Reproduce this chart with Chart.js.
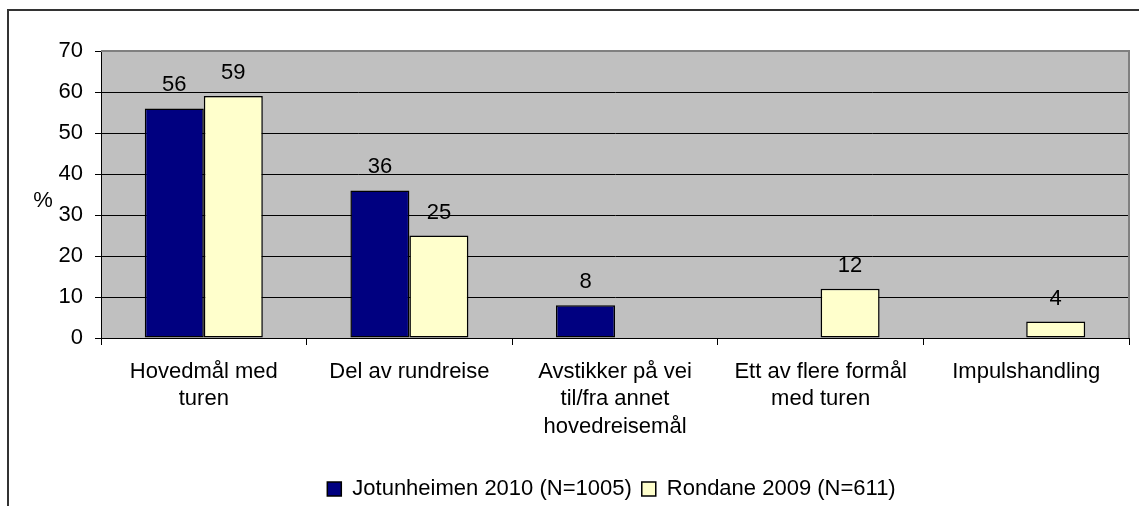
<!DOCTYPE html>
<html><head><meta charset="utf-8">
<script src="https://cdn.jsdelivr.net/npm/chart.js@4/dist/chart.umd.min.js"></script>
<style>
html,body{margin:0;padding:0;background:#fff;overflow:hidden;width:1139px;height:506px}
#wrap{position:absolute;left:0;top:0;width:1139px;height:510px}
</style>
</head><body><div id="wrap"><canvas id="c" width="1139" height="510"></canvas></div>
<script>
const categories = [['Hovedmål med','turen'],'Del av rundreise',['Avstikker på vei','til/fra annet','hovedreisemål'],['Ett av flere formål','med turen'],'Impulshandling'];
const seriesNames = ['Jotunheimen 2010 (N=1005)','Rondane 2009 (N=611)'];
const jotunheimen = [56, 36, 8, null, null];
const rondane = [59, 25, null, 12, 4];
const yMin = 0, yMax = 70, yStep = 10;
const yAxisTitle = '%';

const FONT = '"Liberation Sans", Arial, sans-serif';
const FS = 22;
const LEGEND_SHIFT = 47;

const framePlugin = {
  id: 'frame',
  beforeDraw(chart) {
    const ctx = chart.ctx, a = chart.chartArea;
    ctx.save();
    ctx.fillStyle = '#fff';
    ctx.fillRect(0, 0, chart.width, chart.height);
    ctx.strokeStyle = '#333';
    ctx.lineWidth = 2;
    ctx.beginPath();
    ctx.moveTo(8, chart.height + 5);
    ctx.lineTo(8, 10);
    ctx.lineTo(chart.width + 5, 10);
    ctx.stroke();
    ctx.fillStyle = '#C0C0C0';
    ctx.fillRect(a.left, a.top, a.right - a.left, a.bottom - a.top);
    ctx.restore();
  },
  beforeDatasetsDraw(chart) {
    const ctx = chart.ctx, a = chart.chartArea;
    ctx.save();
    ctx.strokeStyle = '#808080';
    ctx.lineWidth = 2;
    ctx.beginPath();
    ctx.moveTo(a.left, a.top);
    ctx.lineTo(a.right, a.top);
    ctx.lineTo(a.right, a.bottom);
    ctx.stroke();
    ctx.restore();
  },
  afterDatasetsDraw(chart) {
    const ctx = chart.ctx;
    ctx.save();
    ctx.font = FS + 'px ' + FONT;
    ctx.fillStyle = '#000';
    ctx.textAlign = 'center';
    ctx.textBaseline = 'alphabetic';
    chart.data.datasets.forEach((ds, i) => {
      const meta = chart.getDatasetMeta(i);
      meta.data.forEach((el, j) => {
        const v = ds.data[j];
        if (v === null || v === undefined) return;
        ctx.fillText(String(v), el.x, el.y - 17);
      });
    });
    const y = chart.scales.y;
    ctx.fillText(yAxisTitle, 43, y.getPixelForValue(35) + 12);
    ctx.restore();
  },
  afterLayout(chart) {
    const lg = chart.legend;
    if (lg) { lg.left += LEGEND_SHIFT; lg.right += LEGEND_SHIFT; }
  }
};

new Chart(document.getElementById('c'), {
  type: 'bar',
  data: {
    labels: categories,
    datasets: [
      { label: seriesNames[0], data: jotunheimen, backgroundColor: '#000080', borderColor: '#000', borderWidth: 1.5, borderSkipped: false },
      { label: seriesNames[1], data: rondane, backgroundColor: '#FFFFCC', borderColor: '#000', borderWidth: 1.5, borderSkipped: false }
    ]
  },
  options: {
    responsive: false,
    animation: false,
    devicePixelRatio: 1,
    layout: { padding: { top: 51, right: 10, left: 0, bottom: 0 } },
    datasets: { bar: { categoryPercentage: 0.574, barPercentage: 1 } },
    plugins: {
      legend: {
        position: 'bottom',
        labels: { font: { family: FONT, size: FS }, color: '#000', boxWidth: 14, boxHeight: 14, padding: 10 }
      },
      tooltip: { enabled: false }
    },
    scales: {
      x: {
        grid: { display: true, drawOnChartArea: false, drawTicks: true, tickLength: 7, color: '#000', offset: true },
        border: { display: true, color: '#000', width: 1 },
        ticks: { font: { family: FONT, size: FS, lineHeight: 1.25 }, color: '#000', padding: 13, maxRotation: 0, autoSkip: false },
        afterFit(s) { s.height = 130; }
      },
      y: {
        min: yMin, max: yMax,
        ticks: { stepSize: yStep, font: { family: FONT, size: FS }, color: '#000', padding: 12 },
        grid: { color: (c) => (c.tick && c.tick.value === yMax) ? '#808080' : '#000', tickColor: '#000', tickLength: 6, lineWidth: 1 },
        border: { display: true, color: '#000', width: 1 },
        afterFit(s) { s.width = 101; }
      }
    }
  },
  plugins: [framePlugin]
});
</script>
</body></html>
